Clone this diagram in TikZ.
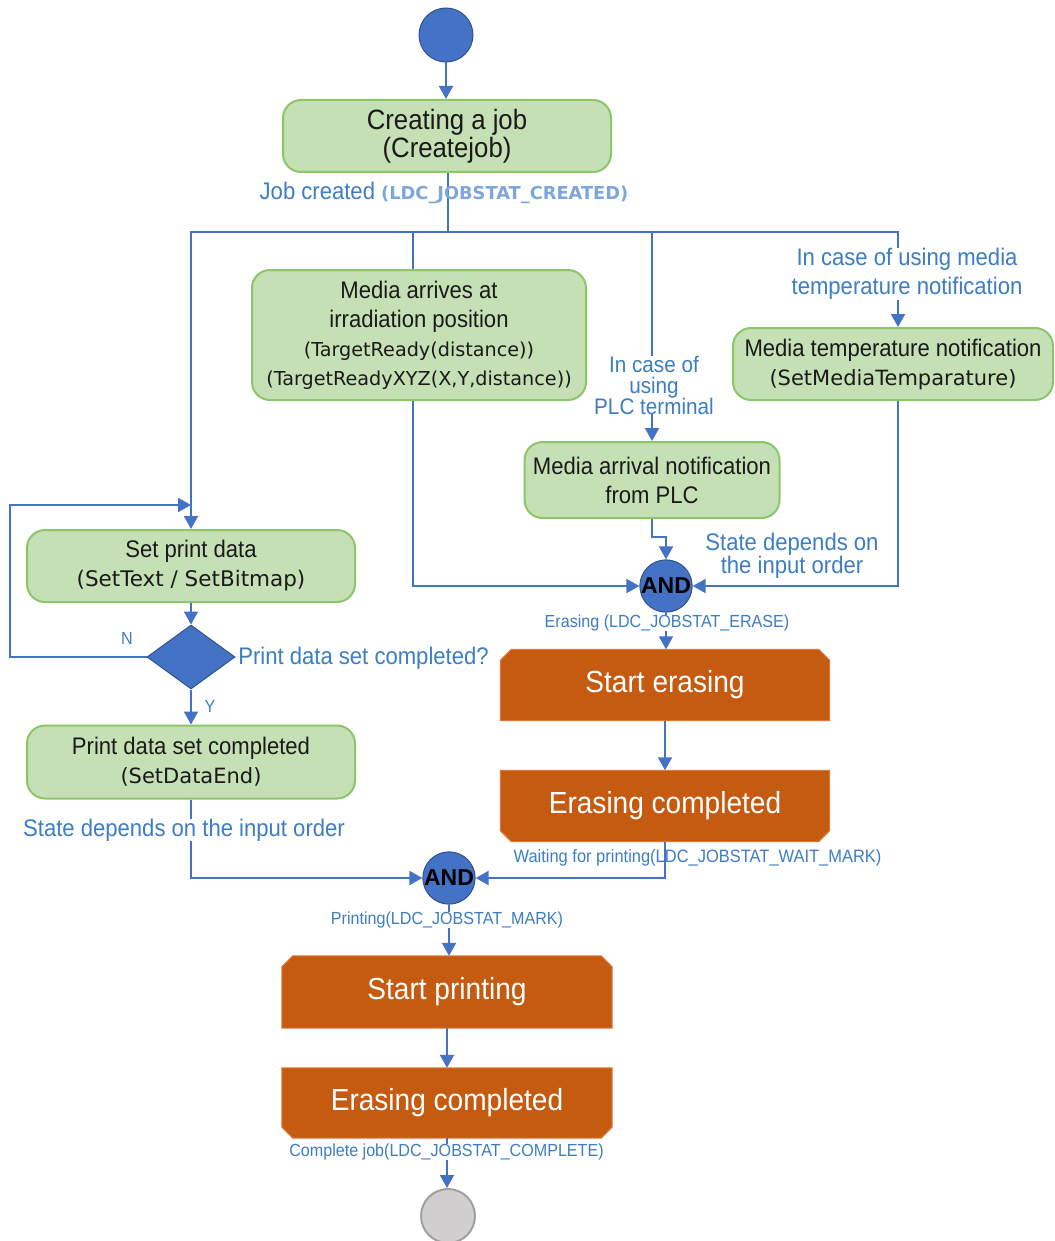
\documentclass[tikz,border=0pt]{standalone}
\usepackage{fontspec}
\setmainfont{Liberation Sans}[FakeStretch=0.92]
\newfontfamily\dvfont{DejaVu Sans}
\newfontfamily\andfont{Liberation Sans}
\usetikzlibrary{arrows.meta,shapes.geometric}
\pgfdeclarelayer{background}
\pgfsetlayers{background,main}

\definecolor{flowblue}{HTML}{4472C4}
\definecolor{darkblue}{HTML}{2F528F}
\definecolor{labelblue}{HTML}{3C7DC4}
\definecolor{paleblue}{HTML}{7EA6DA}
\definecolor{boxgreen}{HTML}{C5E0B4}
\definecolor{edgegreen}{HTML}{8CC66A}
\definecolor{burnt}{HTML}{C55A11}
\definecolor{burntedge}{HTML}{DC7A3C}
\definecolor{endgray}{HTML}{D0CECE}
\definecolor{endedge}{HTML}{A0A0A0}
\definecolor{inktext}{HTML}{1A1A1A}

\tikzset{
  greenbox/.style={draw=edgegreen, fill=boxgreen, line width=2pt, rounded corners=18pt,
    align=center, inner sep=0pt, text=inktext, font=\fontsize{24}{29}\selectfont},
  burntbox/.style={inner sep=0pt, text=white, font=\fontsize{30.5}{30}\selectfont},
  burntfill/.style={fill=burnt, draw=burntedge, line width=1pt},
  flow/.style={draw=flowblue, line width=2pt},
  arr/.style={flow, -{Triangle[width=14pt,length=13pt]}},
  lbl/.style={text=labelblue, inner sep=0pt, align=center, font=\fontsize{24}{29}\selectfont},
  smalllbl/.style={text=labelblue, inner sep=0pt, font=\fontsize{17.5}{20}\selectfont},
  startdot/.style={circle, fill=flowblue, draw=darkblue, line width=1pt, minimum size=54pt, inner sep=0pt},
  enddot/.style={circle, fill=endgray, draw=endedge, line width=2pt, minimum size=54pt, inner sep=0pt},
  andnode/.style={circle, fill=flowblue, draw=darkblue, line width=1pt, inner sep=0pt,
    text=black, font=\andfont\bfseries\fontsize{23}{23}\selectfont},
  decision/.style={diamond, fill=flowblue, draw=darkblue, line width=1pt, inner sep=0pt,
    minimum width=88pt, minimum height=64pt}
}

\newcommand{\apiline}[2][21]{{\dvfont\fontsize{#1}{29}\selectfont #2}}

\begin{document}
\begin{tikzpicture}[x=1pt,y=-1pt]
\useasboundingbox (0,0) rectangle (1054,1241);

% ---- activities and states ----
\node[startdot] (start) at (446,35) {};
\node[greenbox, minimum width=328pt, minimum height=72pt, font=\fontsize{28}{28}\selectfont]
  (cj) at (447,136) {Creating a job\\(Createjob)};
\node[greenbox, minimum width=334pt, minimum height=130pt] (ma) at (419,335)
  {Media arrives at\\irradiation position\\\apiline[19.2]{(TargetReady(distance))}\\\apiline[19.2]{(TargetReadyXYZ(X,Y,distance))}};
\node[greenbox, minimum width=320pt, minimum height=72pt] (mt) at (893,364)
  {Media temperature notification\\\apiline{(SetMediaTemparature)}};
\node[greenbox, minimum width=255pt, minimum height=76pt] (mn) at (652,480)
  {Media arrival notification\\from PLC};
\node[greenbox, minimum width=328pt, minimum height=72pt] (spd) at (191,566)
  {Set print data\\\apiline[21.5]{(SetText / SetBitmap)}};
\node[decision] (dia) at (191,657) {};
\node[greenbox, minimum width=328pt, minimum height=73pt] (pdc) at (191,762)
  {Print data set completed\\\apiline{(SetDataEnd)}};
\node[andnode, minimum size=48pt] (and1) at (666,586) {AND};
\node[burntbox, minimum width=329pt, minimum height=71pt] (se) at (665,685) {Start erasing};
\node[burntbox, minimum width=329pt, minimum height=71pt] (ec) at (665,806) {Erasing completed};
\node[andnode, minimum size=46pt] (and2) at (449,878) {AND};
\node[burntbox, minimum width=330pt, minimum height=72pt] (sp) at (447,992) {Start printing};
\node[burntbox, minimum width=330pt, minimum height=70pt] (ec2) at (447,1103) {Erasing completed};
\node[enddot] (end) at (448,1216) {};

% chamfered process boxes
\begin{pgfonlayer}{background}
  \foreach \b in {se,sp}
    \path[burntfill] ([xshift=11pt]\b.north west) -- ([xshift=-11pt]\b.north east)
      -- ([yshift=-11pt]\b.north east) -- (\b.south east) -- (\b.south west)
      -- ([yshift=-11pt]\b.north west) -- cycle;
  \foreach \b in {ec,ec2}
    \path[burntfill] (\b.north west) -- (\b.north east) -- ([yshift=11pt]\b.south east)
      -- ([xshift=-11pt]\b.south east) -- ([xshift=11pt]\b.south west)
      -- ([yshift=11pt]\b.south west) -- cycle;
\end{pgfonlayer}

% ---- connectors ----
\coordinate (bus) at (448,232);
\coordinate (loopin) at (191,505);
\draw[arr] (start.south) -- (start.south |- cj.north);
\draw[flow] (cj.south -| bus) -- (bus);
\draw[arr] (bus) -| (spd.north);
\draw[flow] (bus) -| ([xshift=-6pt]ma.north);
\draw[arr] (bus) -| (mn.north);
\draw[arr] (bus) -| ([xshift=5pt]mt.north);
\draw[arr] ([xshift=-6pt]ma.south) |- (and1.west);
\draw[arr] ([xshift=5pt]mt.south) |- (and1.east);
\draw[arr] (mn.south) -- ++(0,18) -| (and1.north);
\draw[arr] (and1.south) -- (and1.south |- se.north);
\draw[arr] (se.south) -- (ec.north);
\draw[arr] (ec.south) |- (and2.east);
\draw[arr] (spd.south) -- (dia.north);
\draw[arr] (dia.west) -- ++(-137,0) |- (loopin);
\draw[arr] (dia.south) -- (pdc.north);
\draw[arr] (pdc.south) |- (and2.west);
\draw[arr] (and2.south) -- (and2.south |- sp.north);
\draw[arr] (sp.south) -- (ec2.north);
\draw[arr] (ec2.south) -- (ec2.south |- end.north);

% ---- guard and state labels ----
\node[lbl] (jobcreated) at (444,193)
  {Job created {\color{paleblue}\dvfont\bfseries\fontsize{17.8}{20}\selectfont(LDC\_JOBSTAT\_CREATED)}};
\node[lbl, fill=white] (tempnote) at (907,274) {In case of using media\\temperature notification};
\node[lbl, fill=white, font=\fontsize{22.5}{21}\selectfont] (plcnote) at (654,385)
  {In case of\\using\\PLC terminal};
\node[lbl, font=\fontsize{24}{22}\selectfont] (statenote1) at (792,556) {State depends on\\the input order};
\node[smalllbl, fill=white] (erasing) at (667,623) {Erasing (LDC\_JOBSTAT\_ERASE)};
\node[lbl] (question) at (363.5,658) {Print data set completed?};
\node[smalllbl] (nlabel) at (127,638) {N};
\node[smalllbl] (ylabel) at (210,706) {Y};
\node[lbl, fill=white] (statenote2) at (184,830) {State depends on the input order};
\node[smalllbl, font=\fontsize{17.9}{20}\selectfont] (waiting) at (697.5,858) {Waiting for printing(LDC\_JOBSTAT\_WAIT\_MARK)};
\node[smalllbl, fill=white] (printing) at (447,920) {Printing(LDC\_JOBSTAT\_MARK)};
\node[smalllbl, fill=white] (complete) at (446.5,1152) {Complete job(LDC\_JOBSTAT\_COMPLETE)};
\end{tikzpicture}
\end{document}
